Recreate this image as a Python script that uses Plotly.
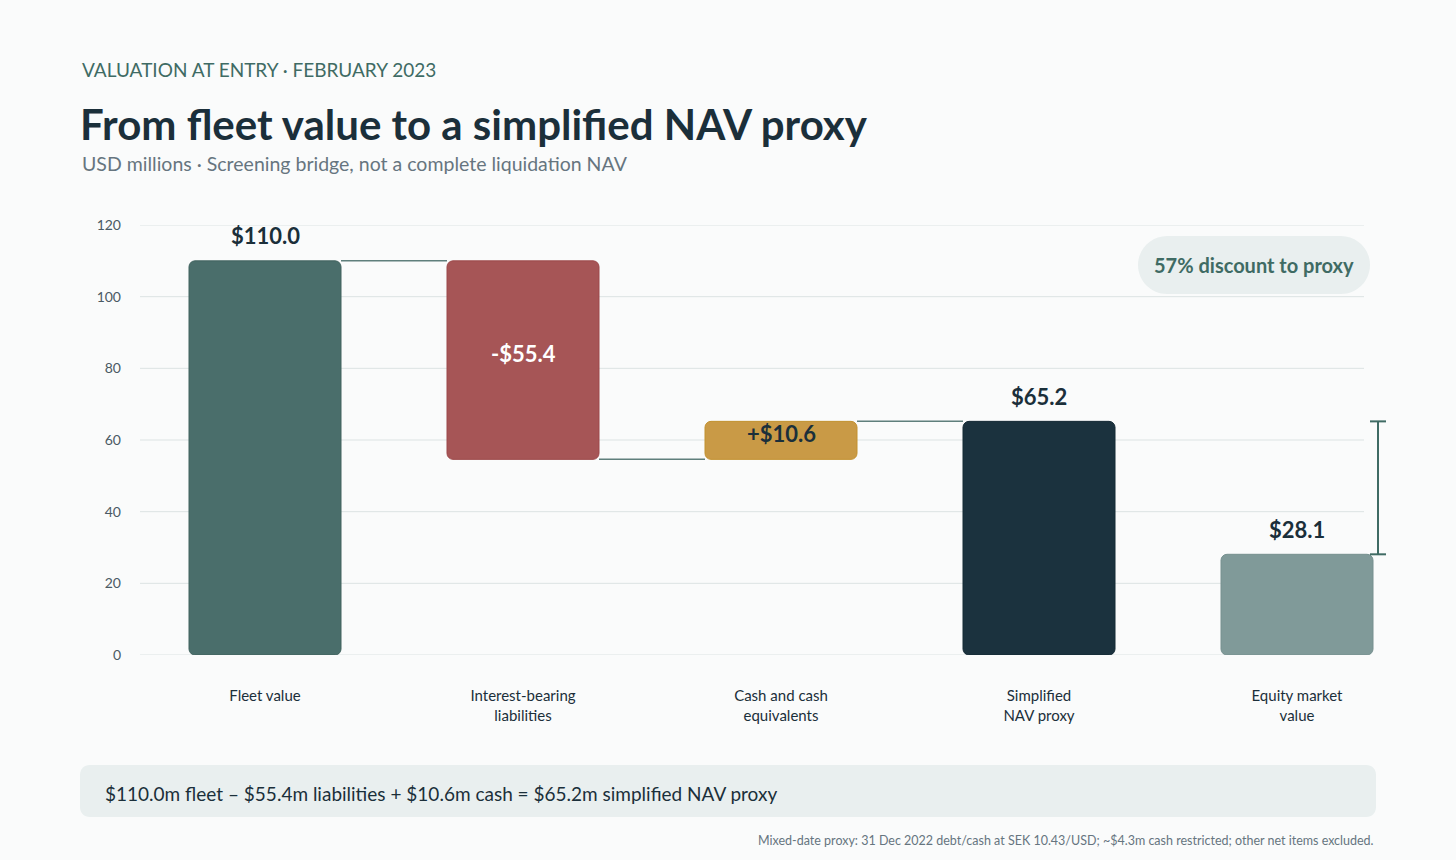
import plotly.graph_objects as go

# data
categories = ["Fleet value", "Interest-bearing<br>liabilities", "Cash and cash<br>equivalents",
              "Simplified<br>NAV proxy", "Equity market<br>value"]
values = [110.0, -55.4, 10.6, 65.2, 28.1]
kinds = ["total", "delta", "delta", "total", "total"]
value_labels = ["$110.0", "-$55.4", "+$10.6", "$65.2", "$28.1"]
bar_colors = ["#4A6E6B", "#A65556", "#C99A46", "#1B323E", "#809A99"]
edge_colors = ["#41635F", "#9C484A", "#C2912F", "#152A35", "#76908F"]
label_colors = ["#1B2F3A", "#FFFFFF", "#1B2F3A", "#1B2F3A", "#1B2F3A"]
y_ticks = [0, 20, 40, 60, 80, 100, 120]

kicker = "VALUATION AT ENTRY · FEBRUARY 2023"
title = "From fleet value to a simplified NAV proxy"
subtitle = "USD millions · Screening bridge, not a complete liquidation NAV"
formula = "$110.0m fleet – $55.4m liabilities + $10.6m cash = $65.2m simplified NAV proxy"
footnote = "Mixed-date proxy: 31 Dec 2022 debt/cash at SEK 10.43/USD; ~$4.3m cash restricted; other net items excluded."

FONT = "Lato"
DARK = "#1B2F3A"
TEAL = "#3F6B64"
GREY = "#66757F"
PANEL = "#E9EFEF"
BG = "#FAFBFB"

# page geometry (pixels)
W, H = 1456, 860
PL, PR, PT, PB = 140, 1400, 225, 655
STEP = 258          # px between categories
FIRST = 265         # px centre of first bar
BAR_W = 152 / STEP
HW = BAR_W / 2


def px_x(p):
    return (p - PL) / (PR - PL)


def px_y(p):
    return (PB - p) / (PB - PT)


def data_x(p):
    return (p - FIRST) / STEP


xs = list(range(len(categories)))

# waterfall lows / highs
lows, highs = [], []
running = 0
for v, k in zip(values, kinds):
    if k == "total":
        lo, hi = 0, v
        running = v
    else:
        start = running
        running = running + v
        lo, hi = min(start, running), max(start, running)
    lows.append(lo)
    highs.append(hi)

fig = go.Figure()

fig.add_trace(go.Bar(x=xs, y=[h - l for h, l in zip(highs, lows)], base=lows, width=BAR_W,
                     marker=dict(color=bar_colors, line=dict(width=1, color=edge_colors)),
                     hoverinfo="skip", showlegend=False))

# connectors between the first bars
cx, cy = [], []
for i in range(2):
    lvl = highs[i] if (kinds[i] == "total" or values[i] > 0) else lows[i]
    cx += [i + HW, i + 1 - HW, None]
    cy += [lvl, lvl, None]
lvl = highs[2]
cx += [2 + HW, 3 - HW]
cy += [lvl, lvl]
fig.add_trace(go.Scatter(x=cx, y=cy, mode="lines", line=dict(color="#5F7F7C", width=1.5),
                         hoverinfo="skip", showlegend=False))

# discount bracket between NAV proxy and equity value
bx = data_x(1378)
cap = 8 / STEP
nav, mkt = values[3], values[4]
fig.add_trace(go.Scatter(x=[bx - cap, bx + cap, None, bx, bx, None, bx - cap, bx + cap],
                         y=[nav, nav, None, nav, mkt, None, mkt, mkt],
                         mode="lines", line=dict(color=TEAL, width=2),
                         hoverinfo="skip", showlegend=False, cliponaxis=False))

# gridlines
gx0, gx1 = data_x(PL), data_x(1364)
for t in y_ticks:
    fig.add_shape(type="line", x0=gx0, x1=gx1, y0=t, y1=t, xref="x", yref="y",
                  line=dict(color="#DCE3E3", width=1), layer="below")

# value labels
for i in xs:
    if kinds[i] == "total":
        fig.add_annotation(x=i, y=highs[i], yshift=25, text="<b>%s</b>" % value_labels[i],
                           showarrow=False, yanchor="middle",
                           font=dict(family=FONT, size=22, color=label_colors[i]))
    else:
        fig.add_annotation(x=i, y=(lows[i] + highs[i]) / 2, yshift=7, text="<b>%s</b>" % value_labels[i],
                           showarrow=False, yanchor="middle",
                           font=dict(family=FONT, size=22, color=label_colors[i]))

# discount pill
discount = round((1 - mkt / nav) * 100)
pw, ph = 116, 29
k = 16
pill = ("M %d,%d L %d,%d C %d,%d %d,%d %d,0 C %d,%d %d,%d %d,%d L %d,%d C %d,%d %d,%d %d,0 C %d,%d %d,%d %d,%d Z"
        % (-(pw - ph), -ph, pw - ph, -ph,
           pw - ph + k, -ph, pw, -k, pw,
           pw, k, pw - ph + k, ph, pw - ph, ph,
           -(pw - ph), ph,
           -(pw - ph + k), ph, -pw, k, -pw,
           -pw, -k, -(pw - ph + k), -ph, -(pw - ph), -ph))
fig.add_shape(type="path", path=pill, xref="paper", yref="paper", xsizemode="pixel", ysizemode="pixel",
              xanchor=px_x(1254), yanchor=px_y(265), fillcolor=PANEL, line=dict(width=0), layer="below")
fig.add_annotation(x=px_x(1254), y=px_y(265), xref="paper", yref="paper", showarrow=False,
                   xanchor="center", yanchor="middle",
                   text="<b>%d%% discount to proxy</b>" % discount,
                   font=dict(family=FONT, size=20, color=TEAL))

# formula panel
bw, bh, r = 648, 26, 10
q = 6
box = ("M %d,%d L %d,%d C %d,%d %d,%d %d,%d L %d,%d C %d,%d %d,%d %d,%d L %d,%d C %d,%d %d,%d %d,%d "
       "L %d,%d C %d,%d %d,%d %d,%d Z"
       % (-bw + r, -bh, bw - r, -bh,
          bw - r + q, -bh, bw, -bh + r - q, bw, -bh + r,
          bw, bh - r,
          bw, bh - r + q, bw - r + q, bh, bw - r, bh,
          -bw + r, bh,
          -bw + r - q, bh, -bw, bh - r + q, -bw, bh - r,
          -bw, -bh + r,
          -bw, -bh + r - q, -bw + r - q, -bh, -bw + r, -bh))
fig.add_shape(type="path", path=box, xref="paper", yref="paper", xsizemode="pixel", ysizemode="pixel",
              xanchor=px_x(728), yanchor=px_y(791), fillcolor=PANEL, line=dict(width=0))
fig.add_annotation(x=px_x(103), y=px_y(793), xref="paper", yref="paper", showarrow=False,
                   xanchor="left", yanchor="middle", text=formula,
                   font=dict(family=FONT, size=19, color=DARK))

# heading texts
fig.add_annotation(x=px_x(80), y=px_y(69), xref="paper", yref="paper", showarrow=False,
                   xanchor="left", yanchor="middle", text=kicker,
                   font=dict(family=FONT, size=19, color=TEAL))
fig.add_annotation(x=px_x(78), y=px_y(124), xref="paper", yref="paper", showarrow=False,
                   xanchor="left", yanchor="middle", text="<b>%s</b>" % title,
                   font=dict(family=FONT, size=42, color=DARK))
fig.add_annotation(x=px_x(80), y=px_y(164), xref="paper", yref="paper", showarrow=False,
                   xanchor="left", yanchor="middle", text=subtitle,
                   font=dict(family=FONT, size=19.5, color=GREY))
fig.add_annotation(x=px_x(1376), y=px_y(840), xref="paper", yref="paper", showarrow=False,
                   xanchor="right", yanchor="middle", text=footnote,
                   font=dict(family=FONT, size=12.5, color=GREY))

fig.update_layout(
    width=W, height=H, autosize=False,
    margin=dict(l=PL, r=W - PR, t=PT, b=H - PB),
    paper_bgcolor=BG, plot_bgcolor=BG,
    barcornerradius=6,
    showlegend=False,
    xaxis=dict(range=[data_x(PL), data_x(PR)], tickvals=xs, ticktext=categories,
               showgrid=False, zeroline=False, showline=False, ticks="",
               ticklabelstandoff=30, tickfont=dict(family=FONT, size=15, color=DARK)),
    yaxis=dict(range=[0, 120], tickvals=y_ticks, showgrid=False, zeroline=False, showline=False,
               ticks="", ticklabelstandoff=18, tickfont=dict(family=FONT, size=14, color="#4A5A63")),
)

fig.write_html("out.html", config={"displayModeBar": False},
               post_script="document.body.style.margin='0';")
